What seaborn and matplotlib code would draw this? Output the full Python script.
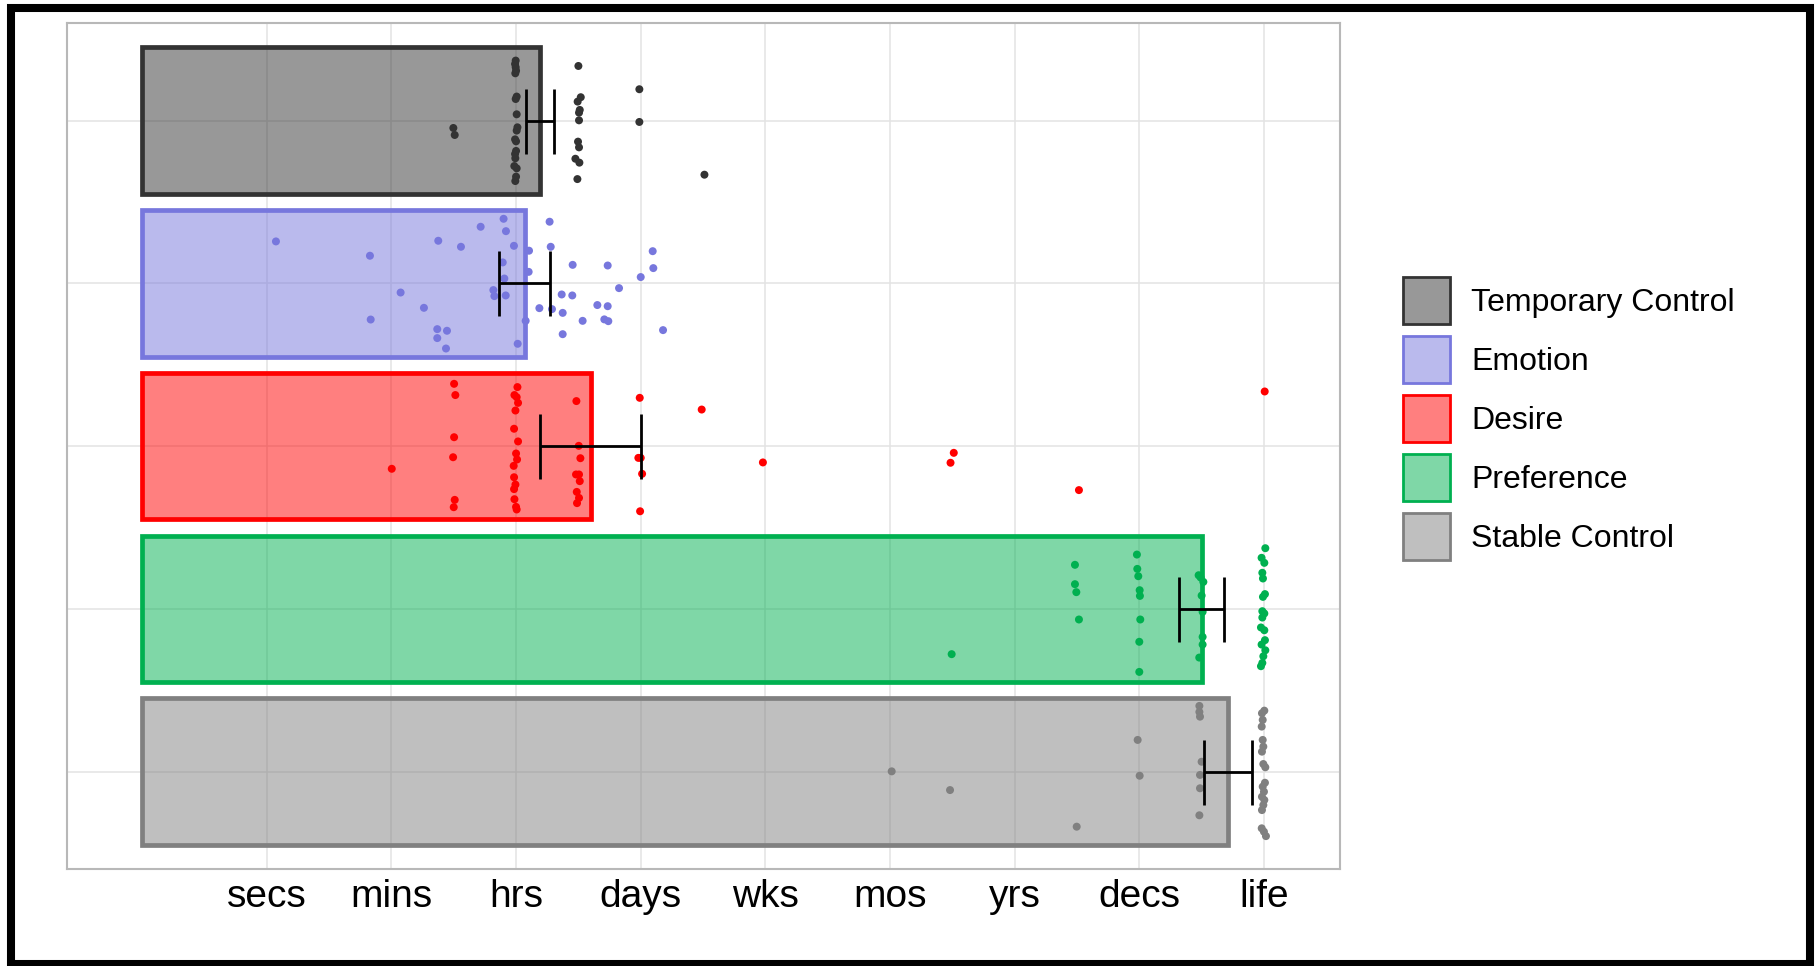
import numpy as np
import pandas as pd
import matplotlib
matplotlib.use("Agg")
import matplotlib.pyplot as plt
from matplotlib.colors import to_rgba
from matplotlib.patches import Patch, Rectangle
import seaborn as sns

# ---- data -------------------------------------------------------------
categories = ["Temporary Control", "Emotion", "Desire", "Preference", "Stable Control"]
mean_scores = [3.19, 3.07, 3.60, 8.50, 8.71]
std_errors = [0.112, 0.205, 0.406, 0.179, 0.194]
edge_colors = ["#333333", "#7777DD", "#FF0000", "#00B050", "#808080"]

tick_values = [1, 2, 3, 4, 5, 6, 7, 8, 9]
tick_labels = ["secs", "mins", "hrs", "days", "wks", "mos", "yrs", "decs", "life"]

# individual responses (score) and their vertical spread within each row
temp_scores = [2.997, 2.992, 2.997, 3.000, 2.994, 3.005, 2.997, 3.005, 3.011, 3.005,
               2.992, 3.000, 3.000, 2.992, 2.994, 2.986, 3.005, 3.000, 2.994, 2.497,
               2.508, 3.500, 3.519, 3.494, 3.511, 3.505, 3.505, 3.497, 3.505, 3.476,
               3.508, 3.492, 3.989, 3.989, 4.511]
temp_jitter = [-0.369, -0.348, -0.328, -0.307, -0.291, -0.148, -0.133, -0.039, 0.041, 0.061,
               0.115, 0.127, 0.186, 0.205, 0.231, 0.279, 0.293, 0.344, 0.371, 0.045,
               0.088, -0.336, -0.144, -0.117, -0.066, -0.049, -0.002, 0.129, 0.164, 0.234,
               0.258, 0.359, -0.193, 0.008, 0.332]

emotion_scores = [1.074, 1.828, 1.834, 2.074, 2.261, 2.376, 2.368, 2.446, 2.368, 2.438,
                  2.558, 2.716, 2.900, 2.919, 2.983, 2.893, 2.906, 2.818, 2.826, 2.917,
                  3.013, 3.077, 3.104, 3.101, 3.269, 3.278, 3.187, 3.288, 3.366, 3.374,
                  3.374, 3.451, 3.454, 3.534, 3.652, 3.735, 3.735, 3.708, 3.740, 3.826,
                  4.000, 4.096, 4.101, 4.179]
emotion_jitter = [-0.258, -0.170, 0.222, 0.056, 0.150, -0.262, 0.281, 0.291, 0.336, 0.400,
                  -0.225, -0.348, -0.397, -0.321, -0.231, -0.129, -0.030, 0.041, 0.078, 0.074,
                  0.371, 0.230, -0.201, -0.071, -0.379, -0.225, 0.152, 0.158, 0.068, 0.181,
                  0.312, 0.074, -0.114, 0.230, 0.133, 0.140, -0.110, 0.221, 0.232, 0.029,
                  -0.039, -0.198, -0.094, 0.287]

desire_scores = [2.003, 2.503, 2.513, 2.503, 2.495, 2.508, 2.500, 3.011, 2.987, 3.005,
                 3.016, 2.995, 2.984, 3.016, 3.000, 3.008, 2.981, 2.984, 2.995, 2.984,
                 2.987, 3.000, 3.005, 3.484, 3.503, 3.516, 3.481, 3.505, 3.511, 3.487,
                 3.505, 3.489, 3.992, 3.981, 4.000, 4.011, 3.995, 4.489, 4.980, 6.511,
                 6.485, 7.515, 9.005]
desire_jitter = [0.139, -0.383, -0.314, -0.055, 0.068, 0.330, 0.375, -0.363, -0.314, -0.301,
                 -0.266, -0.219, -0.107, -0.029, 0.045, 0.082, 0.121, 0.191, 0.236, 0.264,
                 0.326, 0.373, 0.389, -0.277, -0.002, 0.074, 0.174, 0.174, 0.215, 0.281,
                 0.318, 0.350, -0.297, 0.072, 0.072, 0.170, 0.400, -0.225, 0.100, 0.041,
                 0.102, 0.270, -0.336]

preference_scores = [6.494, 7.483, 7.483, 7.494, 7.515, 7.980, 7.983, 7.991, 8.002, 8.004,
                     8.007, 7.999, 7.999, 8.475, 8.491, 8.513, 8.499, 8.507, 8.507, 8.507,
                     8.480, 9.010, 8.980, 9.002, 8.986, 8.991, 9.007, 8.991, 8.986, 9.002,
                     8.986, 8.975, 9.002, 9.007, 8.980, 9.010, 8.994, 8.986, 8.975]
preference_jitter = [0.278, -0.271, -0.152, -0.103, 0.065, -0.334, -0.246, -0.201, -0.115, -0.080,
                     0.065, 0.202, 0.387, -0.207, -0.193, -0.166, -0.082, 0.018, 0.172, 0.219,
                     0.299, -0.373, -0.314, -0.283, -0.222, -0.187, -0.091, -0.074, 0.014, 0.028,
                     0.053, 0.114, 0.131, 0.192, 0.219, 0.254, 0.291, 0.332, 0.352]

stable_scores = [6.013, 6.481, 7.497, 7.986, 8.002, 8.481, 8.481, 8.486, 8.499, 8.486,
                 8.486, 8.481, 9.002, 8.983, 8.989, 8.981, 8.989, 8.994, 8.983, 8.994,
                 9.010, 9.007, 8.989, 8.999, 8.983, 9.002, 8.994, 8.983, 8.981, 8.999,
                 9.015]
stable_jitter = [-0.002, 0.113, 0.338, -0.195, 0.025, -0.404, -0.367, -0.338, -0.061, 0.020,
                 0.102, 0.268, -0.375, -0.359, -0.318, -0.277, -0.195, -0.154, -0.123, -0.047,
                 -0.027, 0.068, 0.092, 0.123, 0.154, 0.174, 0.205, 0.236, 0.348, 0.369,
                 0.396]

score_lists = [temp_scores, emotion_scores, desire_scores, preference_scores, stable_scores]
jitter_lists = [temp_jitter, emotion_jitter, desire_jitter, preference_jitter, stable_jitter]

# ---- styling ----------------------------------------------------------
sns.set_theme(style="white")
plt.rcParams["font.family"] = ["Liberation Sans", "DejaVu Sans"]
plt.rcParams["text.color"] = "black"
plt.rcParams["legend.labelcolor"] = "black"

W, H = 1819, 966
fig = plt.figure(figsize=(W / 100, H / 100), dpi=100)
ax = fig.add_axes([67 / W, 1 - 869 / H, (1340 - 67) / W, (869 - 23) / H])

palette = dict(zip(categories, edge_colors))
bars = pd.DataFrame({"category": categories, "score": mean_scores})

sns.barplot(data=bars, x="score", y="category", hue="category", order=categories,
            hue_order=categories, palette=palette, orient="h", width=0.9,
            errorbar=None, legend=False, ax=ax, zorder=2)

for patch in ax.patches:
    idx = int(round(patch.get_y() + patch.get_height() / 2))
    col = edge_colors[idx]
    patch.set_facecolor(to_rgba(col, 0.5))
    patch.set_edgecolor(col)
    patch.set_linewidth(3.4)
    patch.set_joinstyle("miter")

# jittered individual responses
frames = []
for i, (name, vals, jit) in enumerate(zip(categories, score_lists, jitter_lists)):
    frames.append(pd.DataFrame({"group": name, "score": vals,
                                "row": i + np.asarray(jit, dtype=float)}))
points = pd.concat(frames, ignore_index=True)
sns.scatterplot(data=points, x="score", y="row", hue="group", hue_order=categories,
                palette=palette, s=33, linewidth=0, legend=False, ax=ax, zorder=3)

# standard-error bars
ax.errorbar(x=mean_scores, y=np.arange(len(categories)), xerr=std_errors, fmt="none",
            ecolor="black", elinewidth=2.0, capsize=23.4, capthick=2.0, zorder=4)

# axes
ax.set_xlim(-0.602, 9.609)
ax.set_ylim(4.598, -0.600)
ax.set_xticks(tick_values)
ax.set_xticklabels(tick_labels, fontsize=28, color="black")
ax.set_yticks(range(len(categories)))
ax.set_yticklabels([])
ax.set_xlabel("")
ax.set_ylabel("")
ax.tick_params(axis="x", length=3.6, width=1.0, color="#bdbdbd", pad=3.4)
ax.tick_params(axis="y", length=0)
ax.set_axisbelow(True)
ax.grid(True, color="#e3e3e3", linewidth=1.1)
for sp in ax.spines.values():
    sp.set_visible(True)
    sp.set_color("#b8b8b8")
    sp.set_linewidth(1.5)

# legend
handles = [Patch(facecolor=to_rgba(c, 0.5), edgecolor=c, linewidth=2.0) for c in edge_colors]
fig.legend(handles=handles, labels=categories, loc="upper left",
           bbox_to_anchor=(1403 / W, 1 - 277 / H), frameon=False, fontsize=23,
           labelcolor="black", handlelength=1.47, handleheight=1.887,
           labelspacing=0.376, handletextpad=0.66, borderpad=0, borderaxespad=0)

# outer frame
fig.patches.append(Rectangle((10.5 / W, 1 - 964 / H), (1809.5 - 10.5) / W, (964 - 8) / H,
                             transform=fig.transFigure, fill=False,
                             edgecolor="black", linewidth=5.8, zorder=10))

fig.savefig("out.png", dpi=100, facecolor="white")
